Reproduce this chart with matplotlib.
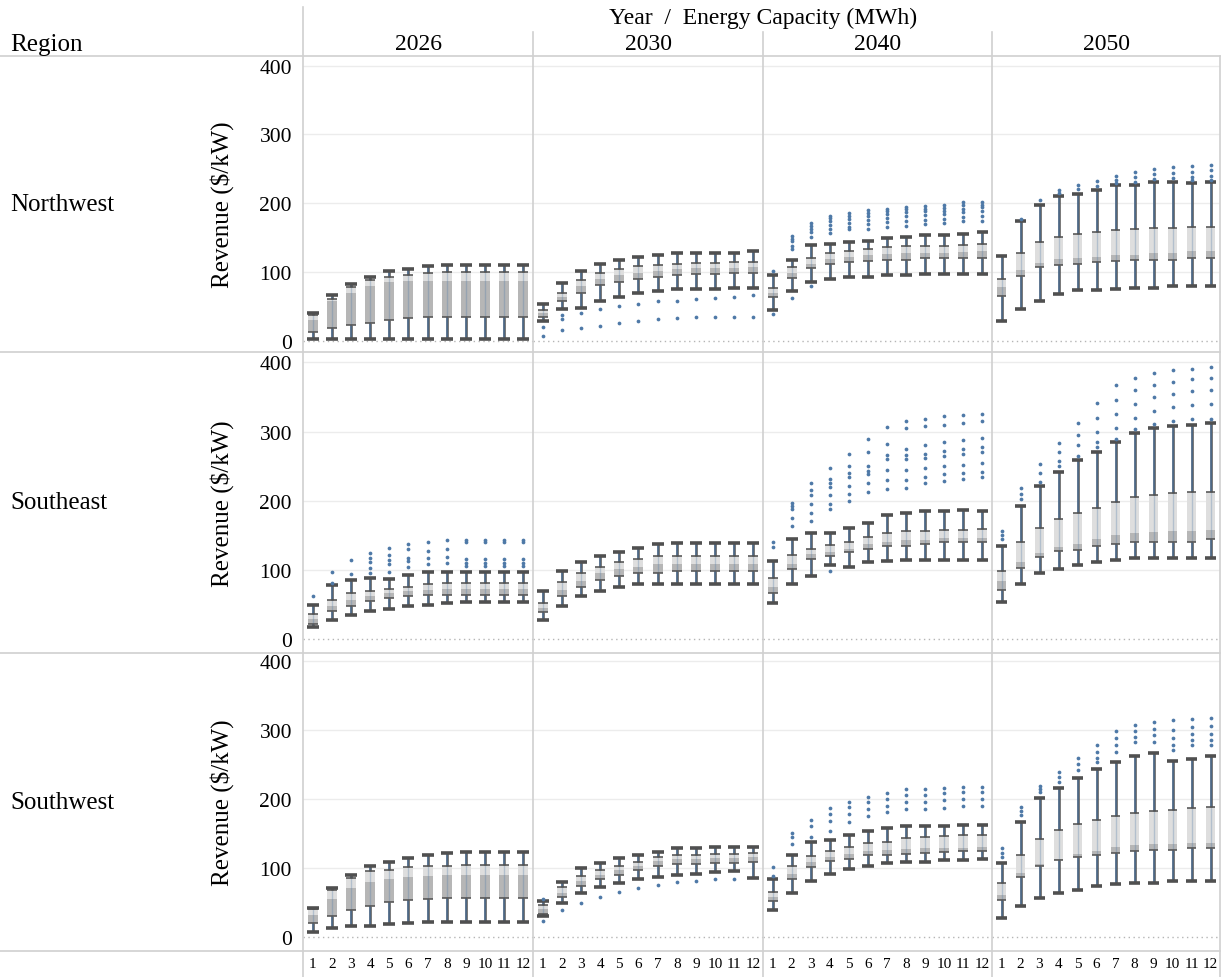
import matplotlib
matplotlib.use("Agg")
import matplotlib.pyplot as plt
from matplotlib.patches import Rectangle
from matplotlib.lines import Line2D

plt.rcParams['font.family'] = ['Liberation Serif', 'DejaVu Serif']

regions = ["Northwest", "Southeast", "Southwest"]
years = ["2026", "2030", "2040", "2050"]
capacities = ["1", "2", "3", "4", "5", "6", "7", "8", "9", "10", "11", "12"]

# ---- Northwest ----
nw26_lo = [2, 2, 2, 2, 2, 3, 3, 3, 3, 3, 3, 3]
nw26_q1 = [12, 19, 23, 26, 30, 33, 34, 34, 34, 34, 34, 34]
nw26_med = [30, 57, 69, 79, 85, 87, 87, 87, 87, 87, 87, 87]
nw26_q3 = [37, 61, 78, 88, 92, 96, 98, 100, 100, 100, 100, 100]
nw26_hi = [40, 66, 82, 93, 101, 104, 108, 110, 110, 110, 110, 110]
nw26_out = [[], [], [], [], [], [], [], [], [], [], [], []]

nw30_lo = [28, 46, 48, 57, 64, 69, 72, 75, 75, 75, 76, 77]
nw30_q1 = [34, 57, 69, 81, 86, 90, 93, 96, 97, 97, 98, 99]
nw30_med = [40, 63, 79, 90, 96, 99, 102, 104, 105, 105, 106, 107]
nw30_q3 = [45, 70, 88, 98, 104, 108, 110, 112, 113, 113, 114, 115]
nw30_hi = [54, 84, 102, 112, 118, 122, 125, 127, 128, 128, 128, 130]
nw30_out = [[20, 7], [37, 31, 15], [40, 18], [46, 22], [50, 25], [54, 29],
            [57, 31], [58, 33], [60, 35], [62, 35], [64, 35], [66, 35]]

nw40_lo = [44, 72, 85, 90, 92, 93, 95, 96, 97, 97, 97, 97]
nw40_q1 = [63, 91, 105, 112, 114, 116, 118, 118, 120, 120, 120, 120]
nw40_med = [70, 98, 112, 119, 122, 124, 126, 127, 128, 128, 129, 130]
nw40_q3 = [77, 107, 120, 128, 131, 133, 136, 137, 138, 138, 139, 141]
nw40_hi = [95, 118, 139, 141, 143, 145, 149, 151, 154, 154, 155, 158]
nw40_out = [[101, 39], [152, 148, 145, 138, 133, 62], [171, 167, 163, 158, 151, 79],
            [182, 178, 174, 168, 162, 156], [185, 181, 177, 171, 166, 162],
            [190, 186, 182, 176, 170, 163], [192, 188, 184, 179, 172, 166],
            [195, 191, 187, 181, 174, 167], [196, 192, 188, 183, 176, 170],
            [197, 193, 189, 184, 177, 171], [201, 197, 192, 187, 180, 174],
            [202, 198, 194, 189, 181, 174]]

nw50_lo = [28, 46, 58, 68, 73, 73, 75, 77, 77, 79, 79, 79]
nw50_q1 = [65, 94, 107, 110, 112, 114, 116, 118, 118, 118, 120, 120]
nw50_med = [78, 103, 113, 119, 120, 121, 125, 125, 127, 128, 130, 130]
nw50_q3 = [90, 127, 144, 151, 155, 158, 161, 163, 164, 164, 166, 166]
nw50_hi = [123, 174, 198, 210, 214, 219, 226, 227, 231, 231, 229, 231]
nw50_out = [[], [177], [205], [219, 215], [226, 220], [232, 225], [240, 234, 229],
            [245, 238, 231], [249, 242, 235], [252, 244, 236], [254, 246, 238, 233],
            [256, 248, 240, 234]]

# ---- Southeast ----
se26_lo = [17, 27, 35, 41, 44, 48, 50, 52, 53, 53, 53, 53]
se26_q1 = [22, 40, 48, 55, 59, 63, 64, 64, 64, 64, 64, 64]
se26_med = [29, 48, 56, 63, 66, 69, 71, 72, 72, 72, 72, 72]
se26_q3 = [37, 56, 66, 70, 73, 76, 79, 81, 81, 81, 81, 81]
se26_hi = [50, 78, 86, 88, 87, 93, 97, 97, 97, 97, 97, 97]
se26_out = [[63], [97, 81], [114, 94], [125, 118, 112, 103, 95], [132, 122, 114, 108, 97],
            [137, 130, 118, 113, 104], [140, 128, 117, 108], [143, 130, 119, 110],
            [144, 140, 116, 110, 106], [144, 140, 116, 110, 106], [144, 140, 116, 110, 106],
            [144, 140, 116, 110, 106]]

se30_lo = [28, 48, 63, 70, 76, 80, 80, 80, 80, 80, 80, 80]
se30_q1 = [39, 63, 76, 85, 92, 95, 96, 99, 99, 99, 99, 99]
se30_med = [45, 71, 84, 95, 101, 105, 108, 109, 109, 109, 109, 109]
se30_q3 = [52, 82, 95, 105, 111, 116, 120, 120, 120, 120, 120, 120]
se30_hi = [69, 99, 112, 120, 126, 132, 137, 139, 139, 139, 139, 139]
se30_out = [[], [], [], [], [], [], [], [], [], [], [], []]

se40_lo = [52, 79, 91, 107, 105, 111, 113, 115, 115, 115, 115, 115]
se40_q1 = [67, 101, 116, 120, 126, 131, 134, 135, 137, 140, 140, 141]
se40_med = [75, 108, 123, 126, 131, 137, 141, 144, 144, 146, 146, 146]
se40_q3 = [89, 121, 130, 136, 141, 147, 153, 156, 156, 158, 158, 159]
se40_hi = [113, 145, 153, 153, 160, 168, 180, 182, 185, 185, 187, 185]
se40_out = [[140, 133], [197, 192, 188, 175, 164], [226, 215, 208, 196, 183, 171],
            [248, 232, 226, 220, 208, 195, 188, 98], [267, 250, 240, 235, 222, 210, 200],
            [289, 270, 250, 243, 238, 225, 212], [306, 282, 266, 260, 245, 230, 217],
            [315, 305, 275, 266, 260, 245, 230, 219], [318, 308, 280, 268, 262, 248, 235, 225],
            [322, 310, 285, 272, 265, 250, 238, 229], [324, 312, 288, 275, 268, 252, 240, 231],
            [326, 315, 290, 278, 270, 255, 242, 234]]

se50_lo = [53, 80, 95, 102, 107, 112, 115, 117, 117, 117, 117, 117]
se50_q1 = [71, 103, 119, 127, 129, 134, 137, 140, 141, 141, 141, 145]
se50_med = [84, 112, 125, 133, 137, 145, 150, 154, 155, 156, 157, 158]
se50_q3 = [98, 141, 161, 173, 183, 190, 198, 205, 208, 211, 212, 212]
se50_hi = [135, 193, 222, 242, 259, 271, 285, 298, 305, 308, 310, 312]
se50_out = [[157, 150, 145], [219, 210, 202], [253, 240, 227], [284, 270, 258, 250],
            [313, 295, 280, 265], [342, 320, 300, 285, 277], [367, 345, 325, 305, 289],
            [378, 360, 340, 320, 304], [385, 368, 350, 330, 311], [389, 372, 355, 335, 315],
            [391, 376, 358, 338, 318], [393, 378, 360, 340, 318]]

# ---- Southwest ----
sw26_lo = [7, 13, 15, 16, 18, 20, 21, 21, 21, 21, 21, 21]
sw26_q1 = [19, 30, 39, 44, 50, 53, 55, 56, 56, 56, 56, 56]
sw26_med = [31, 55, 70, 79, 84, 87, 88, 89, 89, 89, 89, 89]
sw26_q3 = [40, 67, 85, 95, 97, 101, 103, 103, 104, 104, 104, 104]
sw26_hi = [41, 70, 90, 103, 108, 114, 118, 122, 123, 123, 123, 123]
sw26_out = [[], [], [], [], [], [], [], [], [], [], [], []]

sw30_lo = [30, 49, 64, 72, 78, 83, 87, 89, 91, 94, 95, 85]
sw30_q1 = [33, 57, 74, 84, 90, 96, 103, 106, 106, 107, 107, 108]
sw30_med = [40, 64, 80, 90, 96, 102, 110, 113, 113, 114, 114, 115]
sw30_q3 = [46, 72, 88, 96, 103, 108, 116, 119, 119, 120, 120, 122]
sw30_hi = [51, 79, 99, 107, 114, 118, 123, 128, 128, 130, 130, 130]
sw30_out = [[54, 23], [38], [49], [57], [65], [70], [75], [79], [81], [83], [84], []]

sw40_lo = [39, 64, 80, 91, 98, 103, 107, 109, 109, 111, 111, 113]
sw40_q1 = [52, 84, 101, 110, 113, 118, 119, 120, 121, 123, 124, 124]
sw40_med = [58, 91, 108, 116, 120, 124, 126, 127, 128, 128, 129, 130]
sw40_q3 = [65, 103, 117, 124, 130, 136, 138, 143, 145, 146, 147, 148]
sw40_hi = [84, 119, 138, 140, 148, 153, 157, 160, 160, 160, 162, 162]
sw40_out = [[101, 88], [150, 145, 134], [170, 160, 145], [187, 178, 168, 154],
            [196, 188, 178, 167], [203, 195, 185, 175], [208, 200, 190, 181],
            [214, 205, 195, 185], [214, 205, 195, 185], [216, 208, 198, 187],
            [218, 210, 200, 190], [218, 210, 200, 190]]

sw50_lo = [27, 45, 56, 64, 68, 74, 77, 78, 78, 80, 80, 80]
sw50_q1 = [53, 86, 103, 111, 115, 118, 122, 124, 126, 126, 128, 128]
sw50_med = [60, 93, 106, 113, 120, 125, 130, 133, 134, 134, 136, 136]
sw50_q3 = [78, 119, 142, 155, 163, 170, 175, 180, 183, 184, 187, 188]
sw50_hi = [107, 167, 202, 216, 230, 243, 254, 262, 266, 255, 258, 262]
sw50_out = [[128, 122, 116], [188, 182, 176], [219, 214, 210], [239, 232, 225],
            [259, 250, 242], [278, 268, 260, 254], [298, 288, 278, 268],
            [307, 298, 290, 283], [312, 302, 293, 283], [314, 300, 288, 278, 271],
            [316, 305, 294, 285, 278], [317, 306, 295, 286, 278]]

panes = [
    [(nw26_lo, nw26_q1, nw26_med, nw26_q3, nw26_hi, nw26_out),
     (nw30_lo, nw30_q1, nw30_med, nw30_q3, nw30_hi, nw30_out),
     (nw40_lo, nw40_q1, nw40_med, nw40_q3, nw40_hi, nw40_out),
     (nw50_lo, nw50_q1, nw50_med, nw50_q3, nw50_hi, nw50_out)],
    [(se26_lo, se26_q1, se26_med, se26_q3, se26_hi, se26_out),
     (se30_lo, se30_q1, se30_med, se30_q3, se30_hi, se30_out),
     (se40_lo, se40_q1, se40_med, se40_q3, se40_hi, se40_out),
     (se50_lo, se50_q1, se50_med, se50_q3, se50_hi, se50_out)],
    [(sw26_lo, sw26_q1, sw26_med, sw26_q3, sw26_hi, sw26_out),
     (sw30_lo, sw30_q1, sw30_med, sw30_q3, sw30_hi, sw30_out),
     (sw40_lo, sw40_q1, sw40_med, sw40_q3, sw40_hi, sw40_out),
     (sw50_lo, sw50_q1, sw50_med, sw50_q3, sw50_hi, sw50_out)],
]

# layout in pixels (figure is 1225 x 978)
W, H = 1225, 978
col_edges = [303, 533, 763, 992, 1220]
row_edges = [57, 353, 654, 952]
row_ylims = [(-16.5, 414), (-20, 415), (-21, 412)]

DARK = '#505050'
BLUE = '#4e79a7'
LOWER = '#b6b6b6'
UPPER = '#dedede'
LINE = '#d0d0d0'
bw = 0.52
cw = 0.62


def fx(x):
    return x / W


def fy(y):
    return 1 - y / H


def draw_box(ax, i, lo, q1, med, q3, hi, outs):
    ax.add_patch(Rectangle((i - bw / 2, q1), bw, med - q1, fc=LOWER, ec='none', zorder=2))
    ax.add_patch(Rectangle((i - bw / 2, med), bw, q3 - med, fc=UPPER, ec='none', zorder=2))
    for a, b in [(lo, q1), (q3, hi)]:
        ax.plot([i, i], [a, b], color=DARK, lw=1.8, zorder=3, solid_capstyle='butt')
        # dense column of points along the whisker
        ax.plot([i, i], [a, b], color=BLUE, lw=1.1, alpha=0.75, zorder=3.5, solid_capstyle='butt')
    ax.plot([i, i], [q1, q3], color=BLUE, lw=1.0, alpha=0.3, zorder=3.5, solid_capstyle='butt')
    ax.hlines([q1, q3], i - bw / 2, i + bw / 2, color=DARK, lw=1.4, alpha=0.8, zorder=4)
    ax.hlines([lo, hi], i - cw / 2, i + cw / 2, color=DARK, lw=2.6, zorder=4)
    if outs:
        ax.plot([i] * len(outs), outs, 'o', ms=2.7, color=BLUE, mec='none', zorder=5)


fig = plt.figure(figsize=(12.25, 9.78), dpi=100)

for r in range(3):
    for c in range(4):
        x0, x1 = col_edges[c], col_edges[c + 1]
        y0, y1 = row_edges[r], row_edges[r + 1]
        ax = fig.add_axes([fx(x0), fy(y1), (x1 - x0) / W, (y1 - y0) / H])
        ax.set_xlim(-0.5, 11.5)
        ax.set_ylim(*row_ylims[r])
        for s in ax.spines.values():
            s.set_visible(False)
        for g in [100, 200, 300, 400]:
            ax.axhline(g, color='#ececec', lw=1, zorder=0)
        ax.axhline(0, color='#b5b5b5', lw=1, ls=(0, (1, 2.5)), zorder=0)

        lo, q1, med, q3, hi, outs = panes[r][c]
        for i in range(len(capacities)):
            draw_box(ax, i, lo[i], q1[i], med[i], q3[i], hi[i], outs[i])

        if c == 0:
            ax.set_yticks([0, 100, 200, 300, 400])
            ax.set_yticklabels(['0', '100', '200', '300', '400'], fontsize=15.5)
            ax.tick_params(axis='y', length=0, pad=8)
        else:
            ax.set_yticks([])
        if r == 2:
            ax.set_xticks(range(len(capacities)))
            ax.set_xticklabels(capacities, fontsize=11)
            ax.tick_params(axis='x', length=0, pad=4)
        else:
            ax.set_xticks([])

# frame lines
def fline(xs, ys):
    fig.add_artist(Line2D([fx(v) for v in xs], [fy(v) for v in ys], color=LINE, lw=1.2))

for y in [57, 353, 654, 952]:
    fline([0, 1220], [y, y])
fline([303, 303], [8, 978])
for x in [533, 763, 992]:
    fline([x, x], [33, 978])
fline([1220, 1220], [57, 978])

# headers
fig.text(fx(763), fy(18), "Year  /  Energy Capacity (MWh)", ha='center', va='center', fontsize=17)
for c, yr in enumerate(years):
    fig.text(fx((col_edges[c] + col_edges[c + 1]) / 2), fy(45), yr, ha='center', va='center', fontsize=17)
fig.text(fx(10), fy(45), "Region", ha='left', va='center', fontsize=18)

for r, name in enumerate(regions):
    yc = (row_edges[r] + row_edges[r + 1]) / 2
    fig.text(fx(10), fy(yc), name, ha='left', va='center', fontsize=18)
    fig.text(fx(222), fy(yc), "Revenue ($/kW)", ha='center', va='center', rotation=90, fontsize=18)

fig.savefig("out.png", dpi=100)
